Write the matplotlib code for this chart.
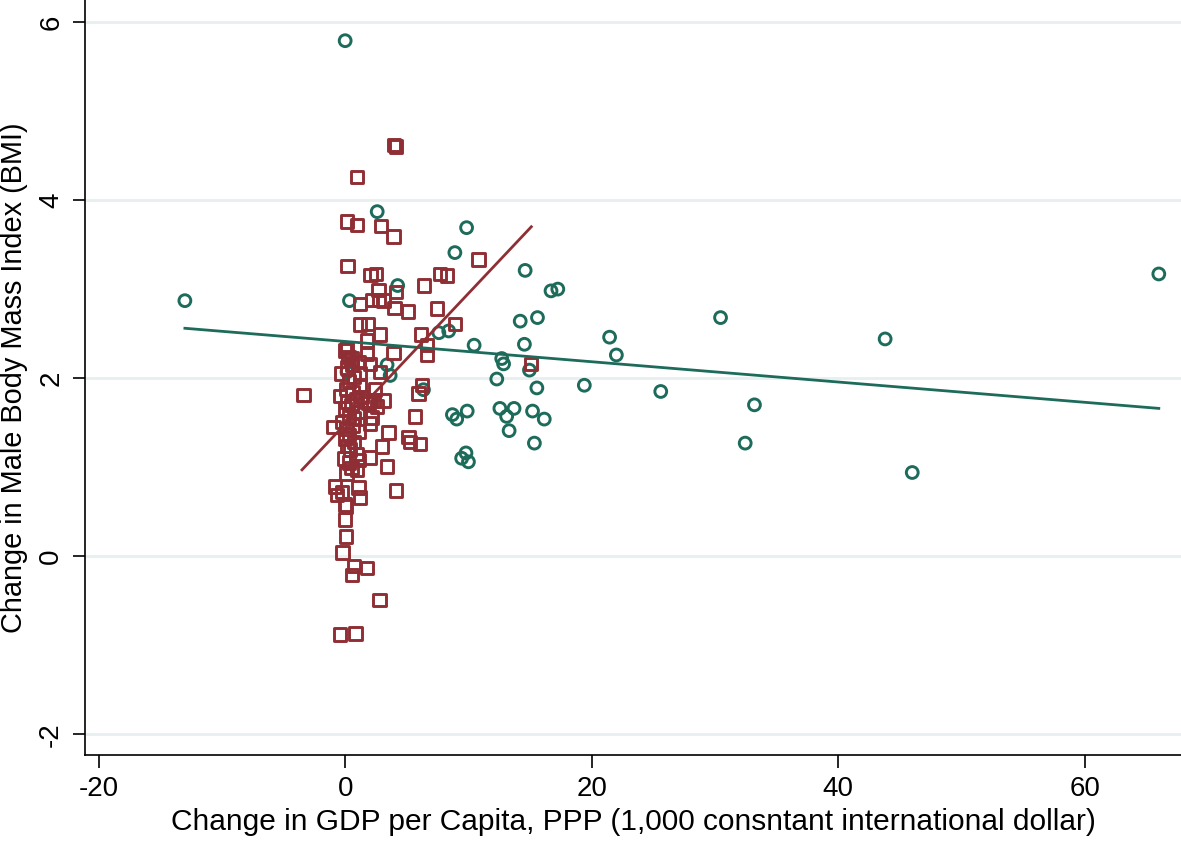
import matplotlib
matplotlib.use("Agg")
import matplotlib.pyplot as plt

plt.rcParams['font.family'] = ['Liberation Sans', 'DejaVu Sans']

# Green circles (high-income change group)
green_x = [0.0, -13.0, 66.0, 2.6, 9.85, 8.9, 14.6, 4.26, 16.7, 17.25, 0.35, 14.2,
           15.6, 21.45, 22.0, 10.46, 14.54, 12.7, 12.85, 14.95, 12.3, 15.55, 19.4,
           25.6, 30.45, 33.2, 32.45, 43.8, 46.0, 8.7, 9.05, 9.9, 12.55, 13.7, 13.1,
           15.2, 16.15, 13.3, 15.35, 9.8, 9.45, 10.0, 8.4, 7.6, 3.4, 3.65, 0.15, 6.35]
green_y = [5.79, 2.87, 3.17, 3.87, 3.69, 3.41, 3.21, 3.04, 2.98, 3.00, 2.87, 2.64,
           2.68, 2.46, 2.26, 2.37, 2.38, 2.22, 2.16, 2.09, 1.99, 1.89, 1.92,
           1.85, 2.68, 1.70, 1.27, 2.44, 0.94, 1.59, 1.54, 1.63, 1.66, 1.66, 1.57,
           1.63, 1.54, 1.41, 1.27, 1.16, 1.10, 1.06, 2.53, 2.51, 2.15, 2.03, 2.07, 1.87]

# Red squares (low-income change group)
red_x = [3.97, 4.14, 0.95, 0.14, 0.95, 2.9, 3.92, 0.19, 10.8, 2.07, 2.51, 7.7, 8.25,
         6.41, 2.7, 4.14, 1.22, 2.19, 2.76, 3.11, 4.01, 5.11, 7.44, 1.22, 1.87, 8.92,
         2.84, 6.16, 1.76, 0.14, 6.63, 6.63, 3.92, 1.78, 0.27, 0.54, 2.03, 2.84, 1.22,
         6.22, 5.94, -3.38, 3.11, 1.76, 2.3, 2.57, 2.43, 1.35, 1.89, 5.68, 2.19, 2.03,
         3.51, -0.93, 5.13, 5.27, 6.08, 2.98, 2.03, 1.08, 3.38, 0.97, 4.14, -0.81,
         -0.27, -0.67, 1.08, 1.22, 0.0, 0.08, 0.0, 0.08, -0.22, 0.73, 1.76, 0.54, 2.78,
         -0.41, 0.84, 15.06,
         0.0, 0.5, 1.1, 0.2, -0.3, 0.7, 0.3, 1.2, 0.1, 0.6, -0.4, 0.9, 0.2, 0.5, 0.0,
         1.0, 0.3, 0.7, -0.2, 0.6, 0.1, 1.1, 0.3, 0.0, 0.7, 0.2, 0.4, 0.9, -0.1, 0.3,
         0.5, 0.1]
red_y = [4.62, 4.60, 4.26, 3.76, 3.72, 3.71, 3.59, 3.26, 3.33, 3.16, 3.17, 3.17, 3.15,
         3.04, 2.99, 2.97, 2.83, 2.88, 2.88, 2.87, 2.79, 2.75, 2.78, 2.60, 2.61, 2.61,
         2.49, 2.49, 2.42, 2.34, 2.37, 2.26, 2.28, 2.27, 2.24, 2.15, 2.16, 2.07, 2.05,
         1.92, 1.83, 1.81, 1.75, 1.75, 1.75, 1.68, 1.87, 1.79, 1.72, 1.57, 1.56, 1.49,
         1.39, 1.45, 1.34, 1.28, 1.26, 1.23, 1.11, 1.08, 1.01, 0.97, 0.74, 0.78,
         0.72, 0.69, 0.77, 0.66, 0.58, 0.56, 0.41, 0.22, 0.04, -0.11, -0.13, -0.21, -0.49,
         -0.88, -0.87, 2.16,
         2.31, 2.22, 2.18, 2.12, 2.05, 2.01, 1.96, 1.92, 1.88, 1.84, 1.80, 1.76, 1.73,
         1.70, 1.66, 1.62, 1.58, 1.55, 1.51, 1.47, 1.43, 1.40, 1.36, 1.32, 1.28, 1.24,
         1.20, 1.15, 1.10, 1.05, 0.99, 0.93]

# Fitted lines (endpoints)
green_fit_x = [-13.0, 66.0]
green_fit_y = [2.56, 1.66]
red_fit_x = [-3.5, 15.1]
red_fit_y = [0.97, 3.70]

x_ticks = [-20, 0, 20, 40, 60]
y_ticks = [-2, 0, 2, 4, 6]
x_label = "Change in GDP per Capita, PPP (1,000 consntant international dollar)"
y_label = "Change in Male Body Mass Index (BMI)"

GREEN = '#1d6b5b'
RED = '#8f2f35'

fig = plt.figure(figsize=(11.81, 8.42), dpi=100)
ax = fig.add_axes([0.072, 0.103, 0.928, 0.897])

for yt in y_ticks:
    ax.axhline(yt, color='#e8eff1', lw=2, zorder=0)

ax.scatter(green_x, green_y, s=8.5**2, marker='o', facecolors='none',
           edgecolors=GREEN, linewidths=2.1, zorder=2)
ax.scatter(red_x, red_y, s=9.0**2, marker='s', facecolors='none',
           edgecolors=RED, linewidths=2.1, zorder=3)
ax.plot(green_fit_x, green_fit_y, color=GREEN, lw=2.0, zorder=4)
ax.plot(red_fit_x, red_fit_y, color=RED, lw=2.0, zorder=4)

ax.set_xlim(-21.1, 67.8)
ax.set_ylim(-2.236, 6.247)
ax.set_xticks(x_ticks)
ax.set_yticks(y_ticks)
ax.set_xticklabels([str(v) for v in x_ticks], fontsize=20)
ax.set_yticklabels([str(v) for v in y_ticks], fontsize=20, rotation=90, va='center')
ax.tick_params(axis='both', direction='out', length=9, width=1.2, color='black', pad=6)
ax.spines['top'].set_visible(False)
ax.spines['right'].set_visible(False)
ax.spines['left'].set_linewidth(1.2)
ax.spines['bottom'].set_linewidth(1.2)
ax.set_xlabel(x_label, fontsize=21.5, labelpad=4)
ax.set_ylabel(y_label, fontsize=20.8, labelpad=7)

fig.savefig('out.png', dpi=100)
